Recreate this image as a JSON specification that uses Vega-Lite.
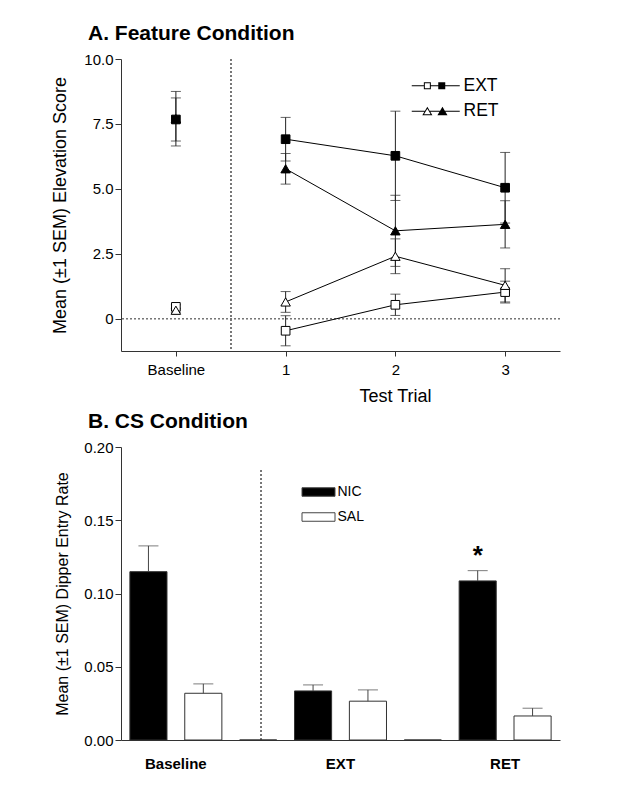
{
  "$schema": "https://vega.github.io/schema/vega-lite/v6.json",
  "padding": {"left": 51, "top": 23, "right": 5, "bottom": 5},
  "background": "white",
  "datasets": {
    "feature": [
      {"trial": 0, "group": "EXT", "drug": "NIC", "mean": 7.67, "sem": 0.83},
      {"trial": 0, "group": "RET", "drug": "NIC", "mean": 7.70, "sem": 1.05},
      {"trial": 0, "group": "EXT", "drug": "SAL", "mean": 0.45, "sem": 0.08},
      {"trial": 0, "group": "RET", "drug": "SAL", "mean": 0.32, "sem": 0.08},
      {"trial": 1, "group": "EXT", "drug": "NIC", "mean": 6.91, "sem": 0.84},
      {"trial": 1, "group": "RET", "drug": "NIC", "mean": 5.77, "sem": 0.59},
      {"trial": 1, "group": "EXT", "drug": "SAL", "mean": -0.47, "sem": 0.58},
      {"trial": 1, "group": "RET", "drug": "SAL", "mean": 0.64, "sem": 0.40},
      {"trial": 2, "group": "EXT", "drug": "NIC", "mean": 6.27, "sem": 1.72},
      {"trial": 2, "group": "RET", "drug": "NIC", "mean": 3.38, "sem": 1.37},
      {"trial": 2, "group": "EXT", "drug": "SAL", "mean": 0.53, "sem": 0.41},
      {"trial": 2, "group": "RET", "drug": "SAL", "mean": 2.40, "sem": 0.67},
      {"trial": 3, "group": "EXT", "drug": "NIC", "mean": 5.04, "sem": 1.36},
      {"trial": 3, "group": "RET", "drug": "NIC", "mean": 3.63, "sem": 0.91},
      {"trial": 3, "group": "EXT", "drug": "SAL", "mean": 1.02, "sem": 0.42},
      {"trial": 3, "group": "RET", "drug": "SAL", "mean": 1.28, "sem": 0.64}
    ],
    "cs": [
      {"slot": "Baseline NIC", "drug": "NIC", "mean": 0.1149, "upper": 0.1325},
      {"slot": "Baseline SAL", "drug": "SAL", "mean": 0.0319, "upper": 0.0383},
      {"slot": "gap1", "drug": "none", "mean": 0},
      {"slot": "EXT NIC", "drug": "NIC", "mean": 0.0335, "upper": 0.0376},
      {"slot": "EXT SAL", "drug": "SAL", "mean": 0.0265, "upper": 0.0342},
      {"slot": "gap2", "drug": "none", "mean": 0},
      {"slot": "RET NIC", "drug": "NIC", "mean": 0.1086, "upper": 0.1156, "sig": "*"},
      {"slot": "RET SAL", "drug": "SAL", "mean": 0.0164, "upper": 0.0217}
    ]
  },
  "resolve": {"legend": {"fill": "independent", "shape": "independent"}},
  "vconcat": [
    {
      "width": 439,
      "height": 292,
      "title": {"text": "A. Feature Condition", "anchor": "start", "frame": "group", "dx": -33, "offset": 8, "fontSize": 21, "fontWeight": "bold", "font": "Liberation Sans", "color": "black"},
      "layer": [
        {
          "data": {"name": "feature"},
          "mark": {"type": "rule", "strokeDash": [2, 2], "color": "#777", "strokeWidth": 1},
          "encoding": {"y": {"datum": 0, "type": "quantitative"}}
        },
        {
          "data": {"name": "feature"},
          "mark": {"type": "rule", "strokeDash": [2, 2], "color": "#777", "strokeWidth": 1},
          "encoding": {"x": {"datum": 0.5, "type": "quantitative"}}
        },
        {
          "data": {"name": "feature"},
          "encoding": {
            "x": {
              "field": "trial", "type": "quantitative",
              "scale": {"domain": [-0.5, 3.5], "nice": false, "zero": false},
              "axis": {"values": [0, 1, 2, 3], "labelExpr": "datum.value == 0 ? 'Baseline' : format(datum.value, 'd')", "title": "Test Trial", "tickSize": 5, "labelPadding": 6, "labelFontSize": 15, "titleFontSize": 18, "titlePadding": 10, "titleX": 274}
            },
            "y": {
              "field": "mean", "type": "quantitative",
              "scale": {"domain": [-1.25, 10], "nice": false, "zero": false},
              "axis": {"values": [0, 2.5, 5, 7.5, 10], "labelExpr": "datum.value == 0 ? '0' : format(datum.value, '.1f')", "title": "Mean (±1 SEM) Elevation Score", "tickSize": 6, "labelPadding": 2, "labelFontSize": 15, "titleFontSize": 18, "titlePadding": 14}
            }
          },
          "layer": [
            {
              "transform": [{"filter": "datum.trial > 0"}],
              "mark": {"type": "line", "color": "black", "strokeWidth": 1},
              "encoding": {"detail": [{"field": "group"}, {"field": "drug"}]}
            },
            {
              "mark": {"type": "errorbar", "ticks": {"size": 10}, "color": "#222"},
              "encoding": {"yError": {"field": "sem"}}
            },
            {
              "transform": [{"filter": "datum.group == 'EXT'"}],
              "mark": {"type": "point", "shape": "square", "size": 75, "stroke": "black", "strokeWidth": 1, "opacity": 1},
              "encoding": {"fill": {"condition": {"test": "datum.drug == 'NIC'", "value": "black"}, "value": "white"}}
            },
            {
              "transform": [{"filter": "datum.group == 'RET'"}],
              "mark": {"type": "point", "shape": "triangle-up", "size": 90, "stroke": "black", "strokeWidth": 1, "opacity": 1},
              "encoding": {"fill": {"condition": {"test": "datum.drug == 'NIC'", "value": "black"}, "value": "white"}}
            },
            {
              "mark": {"type": "point", "opacity": 0, "filled": true, "size": 100, "color": "black"},
              "encoding": {
                "shape": {
                  "field": "group", "type": "nominal",
                  "scale": {"domain": ["EXT", "RET"], "range": [
                    "M-4.8,-0.1H-2.38V0.1H-4.8Z M-0.98,-0.1H0.5V0.1H-0.98Z M1.9,-0.1H4.8V0.1H1.9Z M-2.38,-0.7H-0.98V0.7H-2.38Z M-2.18,-0.5V0.5H-1.18V-0.5Z M0.5,-0.7H1.9V0.7H0.5Z",
                    "M-4.8,-0.1H-2.212V0.1H-4.8Z M-1.148,-0.1H0.808V0.1H-1.148Z M1.872,-0.1H4.8V0.1H1.872Z M-1.68,-0.912L-0.672,0.816L-2.688,0.816Z M-1.68,-0.514L-2.338,0.614L-1.022,0.614Z M1.34,-0.912L2.348,0.816L0.332,0.816Z"
                  ]},
                  "legend": {"title": null, "orient": "none", "legendX": 306, "legendY": 18, "padding": 0, "symbolSize": 100, "symbolFillColor": "black", "symbolStrokeColor": "black", "symbolStrokeWidth": 0, "symbolOpacity": 1, "labelFontSize": 17.5, "labelOffset": 19, "rowPadding": 6.5}
                }
              }
            }
          ]
        }
      ]
    },
    {
      "width": 439,
      "height": 293,
      "title": {"text": "B. CS Condition", "anchor": "start", "frame": "group", "dx": -33, "offset": 8, "fontSize": 21, "fontWeight": "bold", "font": "Liberation Sans", "color": "black"},
      "data": {"name": "cs"},
      "encoding": {
        "x": {
          "field": "slot", "type": "nominal",
          "scale": {"domain": ["Baseline NIC", "Baseline SAL", "gap1", "EXT NIC", "EXT SAL", "gap2", "RET NIC", "RET SAL"], "paddingInner": 0.324, "paddingOuter": 0.162},
          "axis": {"labelExpr": "datum.value == 'Baseline NIC' ? 'Baseline' : datum.value == 'EXT NIC' ? 'EXT' : datum.value == 'RET NIC' ? 'RET' : ''", "labelOffset": 27.4, "ticks": false, "labelAngle": 0, "labelFontWeight": "bold", "labelFontSize": 15, "labelPadding": 16, "title": null}
        },
        "y": {
          "field": "mean", "type": "quantitative",
          "scale": {"domain": [0, 0.2], "nice": false},
          "axis": {"values": [0, 0.05, 0.1, 0.15, 0.2], "format": ".2f", "title": "Mean (±1 SEM) Dipper Entry Rate", "tickSize": 6, "labelPadding": 2, "labelFontSize": 15, "titleFontSize": 16, "titlePadding": 13}
        }
      },
      "layer": [
        {
          "mark": {"type": "rule", "strokeDash": [2, 2], "color": "#777", "strokeWidth": 1},
          "encoding": {
            "x": {"datum": "gap1", "type": "nominal", "bandPosition": 0.58},
            "y": {"datum": 0, "type": "quantitative"},
            "y2": {"datum": 0.185}
          }
        },
        {
          "mark": {"type": "bar", "stroke": "#333", "strokeWidth": 1},
          "encoding": {
            "fill": {
              "field": "drug", "type": "nominal",
              "scale": {"domain": ["NIC", "SAL", "none"], "range": ["black", "white", "white"]},
              "legend": {"values": ["NIC", "SAL"], "title": null, "orient": "none", "legendX": 190.5, "legendY": 38, "padding": 0, "symbolType": "M-3.3,-0.85H3.3V0.85H-3.3Z", "symbolSize": 100, "symbolStrokeColor": "#444", "symbolStrokeWidth": 1, "symbolOpacity": 1, "labelFontSize": 14, "labelOffset": 12, "rowPadding": 11}
            }
          }
        },
        {
          "transform": [{"filter": "datum.upper != null"}],
          "mark": {"type": "rule", "color": "#444", "strokeWidth": 1},
          "encoding": {"y2": {"field": "upper"}}
        },
        {
          "transform": [{"filter": "datum.upper != null"}],
          "mark": {"type": "tick", "color": "#444", "thickness": 1, "size": 20},
          "encoding": {"y": {"field": "upper", "type": "quantitative"}}
        },
        {
          "transform": [{"filter": "datum.sig != null"}],
          "mark": {"type": "text", "dy": -17, "fontSize": 26, "fontWeight": "bold", "baseline": "alphabetic", "color": "black"},
          "encoding": {"text": {"field": "sig"}}
        }
      ]
    }
  ],
  "spacing": 6,
  "config": {
    "font": "Liberation Sans",
    "view": {"stroke": null},
    "axis": {"domainColor": "#333", "tickColor": "#333", "labelColor": "black", "titleColor": "black", "grid": false, "labelFont": "Liberation Sans", "titleFont": "Liberation Sans", "titleFontWeight": "normal"},
    "legend": {"labelColor": "black", "labelFont": "Liberation Sans"}
  }
}
